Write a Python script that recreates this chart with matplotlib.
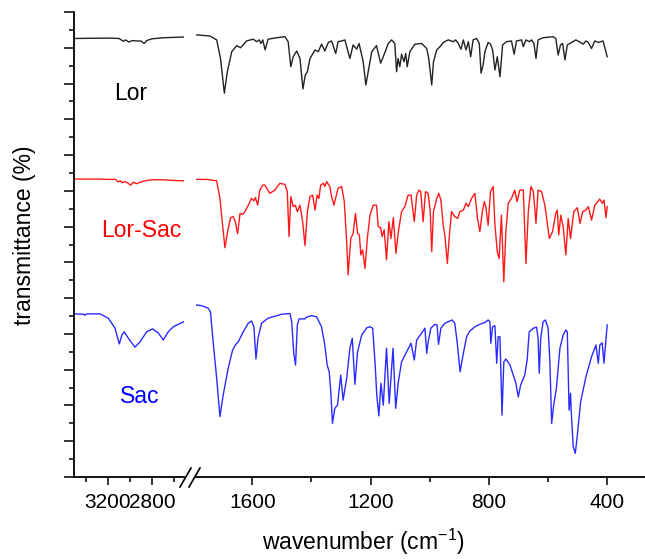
import matplotlib
matplotlib.use('Agg')
import matplotlib.pyplot as plt
from matplotlib.lines import Line2D
from matplotlib.ticker import MultipleLocator, FixedLocator, NullFormatter

plt.rcParams['font.family'] = ['Liberation Sans', 'DejaVu Sans']
plt.rcParams['mathtext.fontset'] = 'custom'
plt.rcParams['mathtext.rm'] = 'Liberation Sans'
plt.rcParams['mathtext.it'] = 'Liberation Sans:italic'

# IR spectra, wavenumber (cm-1) vs transmittance (traces offset vertically)
lor_wn = [3500, 3200, 3100, 3060, 3040, 3010, 2980, 2940, 2900, 2870, 2850, 2800, 2700, 2520,
          1790, 1744, 1721, 1708, 1695, 1685, 1670, 1653, 1640, 1620, 1597, 1586, 1577, 1571,
          1565, 1557, 1547, 1518, 1490, 1479, 1470, 1462, 1450, 1439, 1429, 1421, 1414, 1405,
          1388, 1377, 1366, 1355, 1343, 1332, 1318, 1310, 1298, 1287, 1270, 1259, 1247, 1239,
          1225, 1216, 1208, 1196, 1180, 1166, 1157, 1140, 1129, 1118, 1112, 1107, 1101, 1095,
          1087, 1081, 1076, 1067, 1050, 1027, 1010, 1003, 993, 987, 976, 965, 954, 937, 920,
          912, 903, 894, 886, 877, 869, 861, 853, 841, 832, 826, 819, 813, 802, 794, 787, 779,
          771, 762, 753, 740, 723, 714, 706, 689, 683, 674, 663, 655, 647, 640, 633, 616, 582,
          573, 565, 557, 550, 542, 534, 519, 505, 494, 480, 471, 463, 452, 441, 429, 413, 399]
lor_t = [122.6, 122.7, 122.6, 121.8, 122.2, 121.6, 122.0, 121.9, 121.9, 121.2, 122.0, 122.5, 122.8, 123.0,
         123.6, 123.3, 122.2, 117.0, 107.3, 113.3, 118.9, 120.6, 120.0, 121.9, 122.4, 121.7, 122.2, 121.2,
         122.2, 119.4, 122.4, 122.8, 123.1, 121.7, 114.7, 117.5, 119.1, 117.0, 108.5, 112.4, 113.3, 117.0,
         119.4, 118.9, 121.0, 119.1, 121.5, 121.9, 118.4, 121.7, 121.9, 122.2, 117.0, 120.8, 119.6, 121.2,
         116.1, 109.6, 113.3, 118.9, 120.6, 115.7, 117.5, 121.2, 122.2, 121.2, 113.3, 117.0, 114.7, 118.2,
         116.1, 118.4, 114.7, 118.9, 121.0, 121.2, 119.8, 117.0, 109.6, 116.1, 119.4, 120.3, 121.5, 122.2, 121.7,
         122.2, 121.2, 119.6, 122.2, 119.4, 121.7, 117.5, 122.2, 122.6, 121.2, 112.9, 115.2, 118.9, 121.5, 121.0, 119.4, 113.8,
         117.5, 111.9, 120.8, 121.7, 121.9, 118.2, 121.9, 122.2, 120.3, 122.2, 121.7, 122.2, 121.2, 117.0, 122.2, 122.8, 123.1,
         122.6, 118.0, 120.8, 121.2, 116.6, 120.8, 121.5, 122.2, 121.7, 121.0, 121.9, 121.5, 119.8, 121.9, 121.5, 121.9, 117.5]

mix_wn = [3500, 3300, 3200, 3130, 3110, 3090, 3070, 3050, 3020, 2995, 2970, 2940, 2900, 2850, 2800, 2700, 2600, 2520,
          1790, 1755, 1721, 1710, 1701, 1693, 1684, 1674, 1665, 1658, 1650, 1642, 1633, 1625, 1611, 1603,
          1595, 1590, 1582, 1575, 1565, 1558, 1541, 1524, 1507, 1490, 1482, 1476, 1470, 1462, 1455, 1448,
          1439, 1430, 1422, 1414, 1405, 1396, 1388, 1381, 1375, 1369, 1360, 1355, 1349, 1338, 1332, 1324,
          1318, 1310, 1298, 1289, 1281, 1276, 1267, 1259, 1251, 1244, 1238, 1233, 1227, 1219, 1211, 1202,
          1191, 1180, 1174, 1166, 1161, 1154, 1146, 1138, 1131, 1123, 1114, 1106, 1095, 1084, 1073, 1063,
          1052, 1044, 1036, 1030, 1022, 1014, 1005, 998, 993, 987, 976, 969, 962, 954, 948, 940, 934, 926,
          915, 905, 898, 886, 877, 869, 858, 847, 838, 830, 822, 815, 810, 802, 794, 785, 779, 771, 765,
          757, 749, 742, 734, 723, 712, 704, 695, 683, 674, 666, 657, 649, 640, 633, 621, 610, 604, 595,
          584, 573, 568, 563, 556, 548, 539, 531, 523, 512, 500, 491, 482, 471, 463, 452, 441, 424, 416,
          410, 403, 399]
mix_t = [83.3, 83.3, 83.2, 83.2, 82.5, 82.8, 82.3, 82.6, 82.2, 81.6, 82.4, 82.0, 82.5, 82.9, 83.1, 83.1, 82.9, 82.8,
         83.2, 83.2, 82.8, 77.9, 70.4, 64.1, 68.6, 72.5, 72.8, 71.4, 68.0, 73.7, 73.4, 74.2, 76.5, 77.9,
         77.2, 78.1, 76.0, 80.2, 81.6, 81.6, 79.3, 80.2, 82.1, 81.8, 79.8, 67.2, 78.4, 75.6, 76.0, 74.2,
         76.0, 71.4, 64.7, 74.2, 78.4, 78.8, 74.6, 78.8, 77.9, 81.6, 82.1, 81.2, 82.6, 81.2, 78.4, 76.0,
         78.1, 80.7, 81.2, 77.0, 65.8, 56.5, 66.7, 68.1, 73.7, 68.1, 67.7, 62.1, 63.5, 58.3, 66.7, 73.2,
         76.0, 76.0, 70.0, 69.7, 67.2, 69.1, 60.7, 71.4, 66.7, 72.5, 62.5, 68.6, 74.2, 75.6, 78.8, 78.8,
         71.4, 78.8, 80.2, 79.8, 71.4, 79.8, 79.3, 74.2, 63.0, 74.2, 77.9, 79.3, 77.4, 70.4, 67.2, 59.7, 66.7, 74.2,
         72.8, 72.3, 74.2, 74.6, 76.5, 75.6, 77.9, 79.3, 72.3, 68.6, 74.0, 77.0, 75.6, 70.4, 79.8, 81.2, 70.4, 63.0, 61.1,
         73.2, 54.6, 68.6, 76.5, 77.9, 80.2, 77.0, 80.2, 80.2, 59.7, 74.2, 81.2, 79.8, 70.9, 80.2, 79.8, 76.0, 72.3, 66.7,
         68.6, 73.7, 74.6, 67.7, 73.2, 70.0, 62.1, 72.3, 66.7, 74.2, 75.3, 70.9, 74.2, 74.6, 75.6, 71.8, 76.0, 77.7, 76.5,
         77.4, 72.5, 75.6]

sac_wn = [3500, 3420, 3409, 3395, 3273, 3197, 3136, 3097, 3073, 3052, 3015, 2955, 2909, 2848, 2794, 2743,
          2697, 2652, 2606, 2520,
          1790, 1772, 1750, 1742, 1733, 1721, 1710, 1699, 1682, 1667, 1656, 1648, 1631, 1614, 1603, 1595,
          1588, 1581, 1569, 1547, 1518, 1501, 1473, 1467, 1460, 1454, 1448, 1442, 1422, 1417, 1400, 1383,
          1366, 1355, 1347, 1340, 1334, 1329, 1321, 1312, 1301, 1293, 1281, 1270, 1262, 1253, 1244, 1230,
          1213, 1202, 1193, 1185, 1179, 1172, 1165, 1157, 1146, 1137, 1124, 1115, 1106, 1095, 1078, 1063,
          1052, 1044, 1030, 1016, 1010, 1005, 996, 982, 975, 970, 962, 948, 924, 915, 907, 897, 887, 875,
          864, 847, 830, 813, 802, 796, 793, 787, 779, 773, 768, 762, 755, 749, 742, 728, 717, 708, 700,
          692, 678, 670, 663, 649, 638, 633, 629, 624, 616, 608, 599, 593, 587, 580, 571, 559, 548, 539,
          534, 528, 523, 521, 514, 507, 500, 489, 471, 452, 437, 429, 424, 416, 410, 399]
sac_t = [45.6, 45.5, 45.2, 45.6, 45.6, 44.4, 41.6, 37.2, 39.7, 40.6, 38.8, 36.3, 37.8, 40.6, 41.4, 40.3,
         38.3, 40.6, 42.0, 43.3,
         48.1, 47.9, 47.2, 46.2, 37.8, 27.6, 16.9, 22.9, 30.4, 35.5, 37.1, 37.8, 40.6, 43.0, 43.6, 42.0,
         33.0, 38.8, 43.0, 44.4, 45.1, 45.5, 45.7, 43.4, 34.6, 31.3, 42.5, 44.2, 44.2, 44.7, 45.1, 44.8,
         42.0, 36.9, 31.3, 29.4, 22.9, 15.0, 19.2, 20.1, 28.5, 21.5, 27.6, 36.0, 38.8, 25.9, 35.0, 39.7,
         41.7, 42.0, 41.6, 32.2, 22.9, 17.1, 26.2, 20.1, 36.0, 20.6, 36.0, 19.2, 26.6, 32.2, 35.0, 37.4,
         32.7, 38.3, 39.9, 41.6, 34.6, 37.8, 41.6, 42.7, 42.5, 37.1, 41.6, 43.0, 43.9, 43.0, 37.8, 29.4, 34.1, 39.2,
         40.8, 42.0, 42.7, 43.2, 43.9, 43.4, 37.4, 42.0, 42.3, 31.8, 39.2, 39.2, 17.3, 32.2, 33.0, 31.3, 28.5, 26.2, 22.4,
         25.7, 28.5, 32.7, 40.6, 41.6, 41.9, 38.8, 29.0, 38.8, 43.4, 43.9, 41.6, 32.2, 15.0, 20.1, 24.8, 36.0, 39.7, 41.1,
         40.6, 18.7, 23.4, 18.7, 8.5, 6.6, 11.7, 21.0, 28.0, 33.6, 36.9, 31.8, 36.9, 37.5, 31.8, 42.5]

names = ['Lor', 'Lor-Sac', 'Sac']
colors = ['#222222', '#ff1a1a', '#2b2bff']
label_colors = ['black', 'red', 'blue']
label_pos = [(2990, 105.4), (2900, 67.1), (2909, 20.7)]

W, H = 645, 559
fig = plt.figure(figsize=(W / 100, H / 100), dpi=100)
bottom, height = (H - 477) / H, 465 / H
ax1 = fig.add_axes([74 / W, bottom, 110 / W, height])
ax2 = fig.add_axes([196 / W, bottom, 449 / W, height], sharey=ax1)

for wn, t, c in zip([lor_wn, mix_wn, sac_wn], [lor_t, mix_t, sac_t], colors):
    ax1.plot(wn, t, color=c, lw=1.0)
    ax2.plot(wn, t, color=c, lw=1.0)

ax1.set_xlim(3509, 2509)
ax2.set_xlim(1791, 271)
ax1.set_ylim(0, 130)

for name, col, (x, y) in zip(names, label_colors, label_pos):
    ax1.text(x, y, name, color=col, fontsize=16.5, ha='center', va='baseline')

ax1.xaxis.set_major_locator(FixedLocator([3200, 2800]))
ax1.xaxis.set_minor_locator(FixedLocator([3400, 3000, 2600]))
ax2.xaxis.set_major_locator(FixedLocator([1600, 1200, 800, 400]))
ax2.xaxis.set_minor_locator(FixedLocator([1400, 1000, 600]))
ax1.yaxis.set_major_locator(MultipleLocator(10))
ax1.yaxis.set_minor_locator(MultipleLocator(5))
ax1.yaxis.set_major_formatter(NullFormatter())

for ax in (ax1, ax2):
    ax.spines['top'].set_visible(False)
    ax.spines['right'].set_visible(False)
    for s in ax.spines.values():
        s.set_linewidth(1.3)
    ax.tick_params(axis='x', which='major', length=5.8, width=1.1, labelsize=15, pad=5.5)
    ax.tick_params(axis='x', which='minor', length=3.6, width=1.1)
ax1.tick_params(axis='y', which='major', length=7.2, width=1.1)
ax1.tick_params(axis='y', which='minor', length=3.6, width=1.1)
ax2.spines['left'].set_visible(False)
ax2.tick_params(axis='y', which='both', left=False, labelleft=False)

# axis break marks
for x0 in (180, 189):
    fig.add_artist(Line2D([x0 / W, (x0 + 11) / W], [1 - 487 / H, 1 - 468 / H],
                          transform=fig.transFigure, color='black', lw=1.2))

fig.text(25 / W, 1 - 235 / H, 'transmittance (%)', rotation=90, fontsize=16.5,
         ha='center', va='center')
fig.text(363 / W, 1 - 542 / H, r'wavenumber (cm$^{-1}$)', fontsize=16.5,
         ha='center', va='center')

fig.savefig('out.png', dpi=100)
